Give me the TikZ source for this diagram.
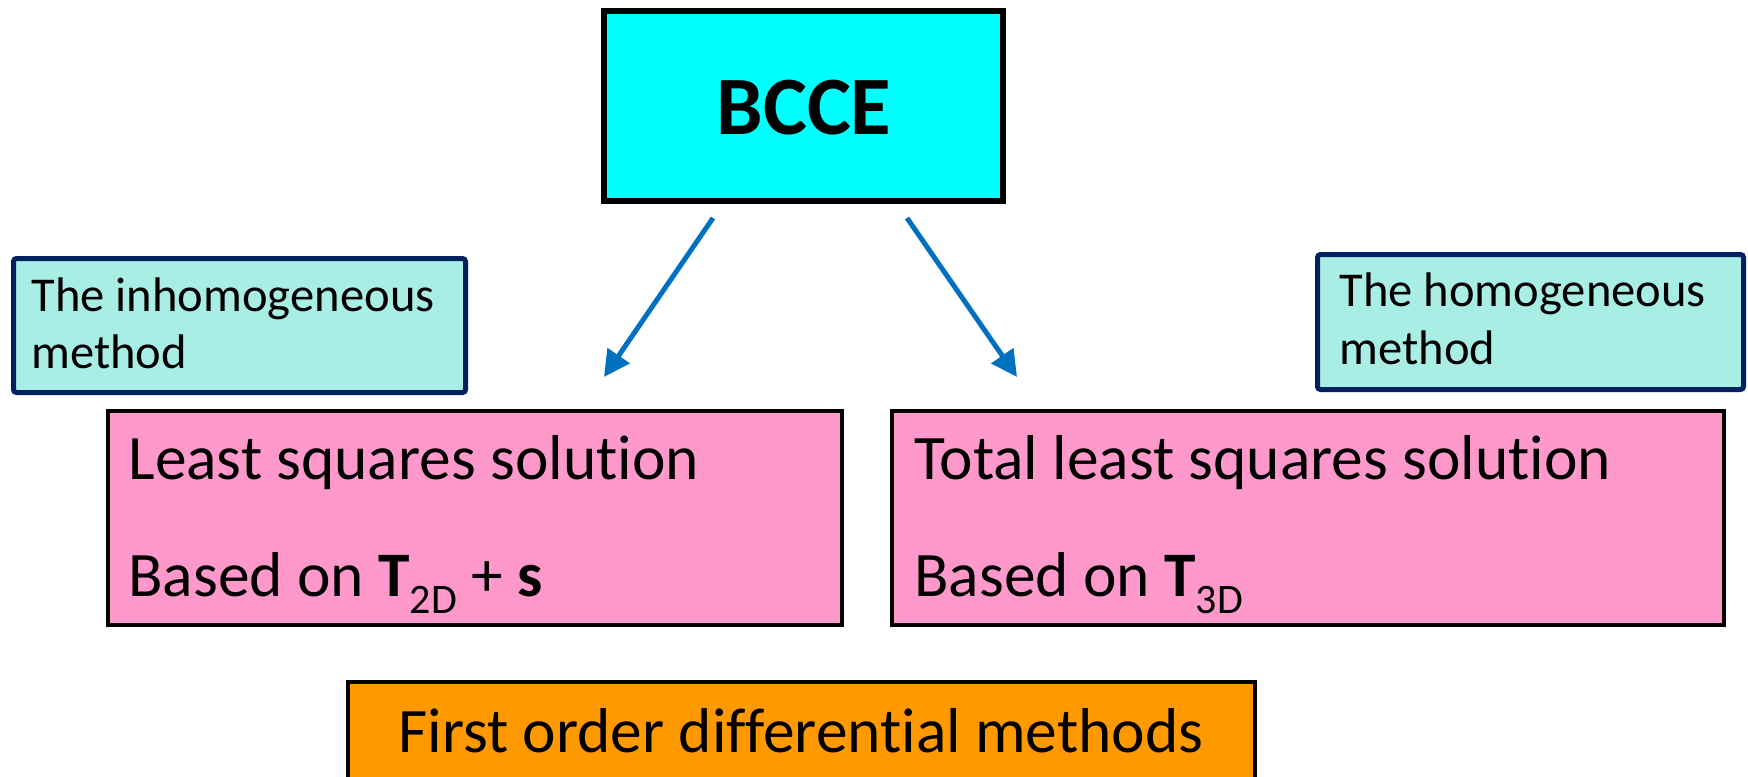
\documentclass[tikz,border=0pt]{standalone}
\usepackage{fontspec}
\setmainfont{Carlito}[Ligatures={NoCommon}]
\usetikzlibrary{arrows.meta}
\definecolor{bccecyan}{HTML}{00FFFF}
\definecolor{notefill}{HTML}{A9EEE5}
\definecolor{notedraw}{HTML}{002060}
\definecolor{solpink}{HTML}{FF99CC}
\definecolor{methorange}{HTML}{FF9900}
\definecolor{arrowblue}{HTML}{0070C0}
\tikzset{
  box/.style={rectangle, inner sep=0pt, outer sep=0pt},
  topbox/.style={box, draw=black, fill=bccecyan, line width=3pt},
  notebox/.style={box, draw=notedraw, fill=notefill, line width=2.5pt, rounded corners=1.5pt},
  solbox/.style={box, draw=black, fill=solpink, line width=2pt},
  methbox/.style={box, draw=black, fill=methorange, line width=1.8pt},
  notetext/.style={inner sep=0pt, anchor=base west, font=\fontsize{24.3}{28.5}\selectfont},
  soltext/.style={inner sep=0pt, anchor=base west, font=\fontsize{31.7}{38}\selectfont},
  flow/.style={draw=arrowblue, line width=2.5pt, -{Triangle[length=13pt, width=13pt]}}
}
\newcommand{\subtxt}[1]{\raisebox{-0.28em}{\fontsize{21}{21}\selectfont #1}}
\begin{document}
\begin{tikzpicture}[x=0.5pt, y=-0.5pt]
  \useasboundingbox (0,0) rectangle (1748,776);

  % top box
  \node[topbox, minimum width=199.5pt, minimum height=95pt] (bcce) at (803.5,106) {};
  \node[inner sep=0pt, font=\bfseries\fontsize{41.5}{48}\selectfont] (bccetext) at (804,108) {BCCE};

  % method notes
  \node[notebox, minimum width=226pt, minimum height=67pt] (inhom) at (239.5,325.5) {};
  \node[notetext] (inhomA) at (31,311) {The inhomogeneous};
  \node[notetext] (inhomB) at (31,368) {method};

  \node[notebox, minimum width=213pt, minimum height=67.5pt] (hom) at (1530.5,322) {};
  \node[notetext] (homA) at (1339,306) {The homogeneous};
  \node[notetext] (homB) at (1339,364) {method};

  % solution boxes
  \node[solbox, minimum width=367pt, minimum height=107pt] (ls) at (475,518) {};
  \node[soltext] (lsA) at (128,479) {Least squares solution};
  \node[soltext] (lsB) at (128,596) {Based on \textbf{T}\subtxt{2D} + \textbf{s}};

  \node[solbox, minimum width=416pt, minimum height=107pt] (tls) at (1308,518) {};
  \node[soltext] (tlsA) at (914,479) {Total least squares solution};
  \node[soltext] (tlsB) at (914,596) {Based on \textbf{T}\subtxt{3D}};

  % bottom box
  \node[methbox, minimum width=453.5pt, minimum height=120pt] (fod) at (801.5,802) {};
  \node[inner sep=0pt, anchor=base, font=\fontsize{31.7}{38}\selectfont] (fodtext) at (801,752) {First order differential methods};

  % connectors
  \coordinate (lstart) at (713,218);
  \coordinate (lend) at (604,377);
  \coordinate (rstart) at (907,218);
  \coordinate (rend) at (1017,377);
  \draw[flow] (lstart) -- (lend);
  \draw[flow] (rstart) -- (rend);
\end{tikzpicture}
\end{document}
